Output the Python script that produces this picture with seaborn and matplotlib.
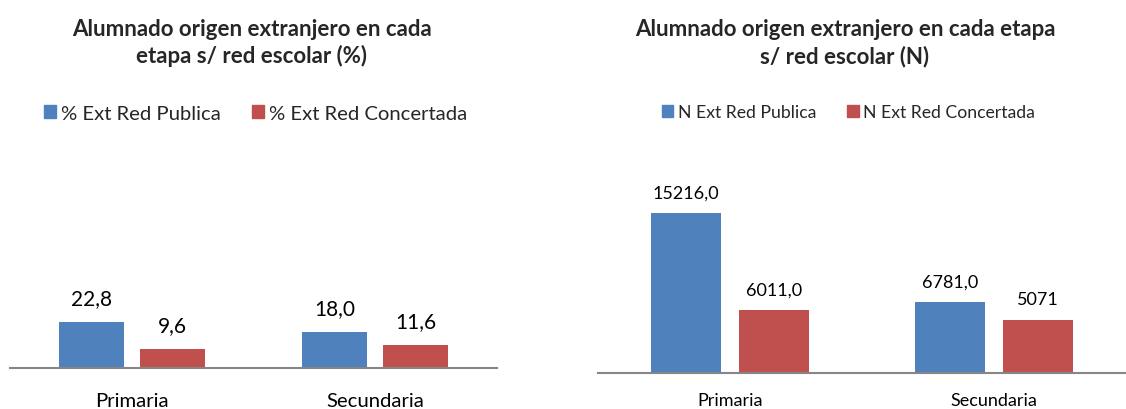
import matplotlib
matplotlib.use('Agg')
import matplotlib.pyplot as plt
import matplotlib.patches as mpatches
import seaborn as sns
import pandas as pd

# data
etapas = ['Primaria', 'Secundaria']
redes_pct = ['% Ext Red Publica', '% Ext Red Concertada']
pct_publica = [22.8, 18.0]
pct_concertada = [9.6, 11.6]
pct_labels = [['22,8', '18,0'], ['9,6', '11,6']]

redes_n = ['N Ext Red Publica', 'N Ext Red Concertada']
n_publica = [15216, 6781]
n_concertada = [6011, 5071]
n_labels = [['15216,0', '6781,0'], ['6011,0', '5071']]

colors = ['#4F81BD', '#C0504D']

sns.set_theme(style='white')
plt.rcParams['font.family'] = ['Lato', 'DejaVu Sans']

W, H = 1126, 410
fig = plt.figure(figsize=(W / 100, H / 100), dpi=100)


def px_axes(x0, x1, top, bottom):
    return fig.add_axes([x0 / W, 1 - bottom / H, (x1 - x0) / W, (bottom - top) / H])


def draw_panel(ax, publica, concertada, redes, labels, ymax, label_size, tick_size, pad, tick_pad):
    df = pd.DataFrame({
        'etapa': etapas * 2,
        'red': [redes[0]] * 2 + [redes[1]] * 2,
        'valor': publica + concertada,
    })
    sns.barplot(data=df, x='etapa', y='valor', hue='red', palette=colors,
                width=0.666, gap=0.2, saturation=1, legend=False, ax=ax,
                edgecolor='none')
    ax.set_ylim(0, ymax)
    ax.set_xlim(-0.5, 1.5)
    for cont, labs in zip(ax.containers, labels):
        ax.bar_label(cont, labels=labs, padding=pad, fontsize=label_size, color='#000000')
    for s in ['top', 'left', 'right']:
        ax.spines[s].set_visible(False)
    ax.spines['bottom'].set_color('#868686')
    ax.spines['bottom'].set_linewidth(1.5)
    ax.set_yticks([])
    ax.set_xlabel('')
    ax.set_ylabel('')
    ax.tick_params(axis='x', length=0, pad=tick_pad, labelsize=tick_size, colors='#000000')
    ax.patch.set_alpha(0)


# left panel (%)
ax1 = px_axes(10, 497, 169, 369)
draw_panel(ax1, pct_publica, pct_concertada, redes_pct, pct_labels, 100, 15, 14.6, 10, 17)

# right panel (N)
ax2 = px_axes(598, 1126, 164, 374)
draw_panel(ax2, n_publica, n_concertada, redes_n, n_labels, 20000, 13, 13, 9, 13.5)

# titles
fig.text(252 / W, 1 - 43 / H, 'Alumnado origen extranjero en cada\netapa s/ red escolar (%)',
         ha='center', va='center', fontsize=16, fontweight='bold', linespacing=1.3)
fig.text(845 / W, 1 - 43 / H, 'Alumnado origen extranjero en cada etapa\ns/ red escolar (N)',
         ha='center', va='center', fontsize=16, fontweight='bold', linespacing=1.3)

# legends
h1 = [mpatches.Patch(color=c, label=l) for c, l in zip(colors, redes_pct)]
fig.legend(handles=h1, loc='center left', bbox_to_anchor=(44 / W, 1 - 114 / H), ncol=2,
           frameon=False, fontsize=14.6, handlelength=0.6, handleheight=0.6,
           handletextpad=0.25, columnspacing=1.5, borderaxespad=0, borderpad=0)
h2 = [mpatches.Patch(color=c, label=l) for c, l in zip(colors, redes_n)]
fig.legend(handles=h2, loc='center left', bbox_to_anchor=(662 / W, 1 - 113 / H), ncol=2,
           frameon=False, fontsize=12.7, handlelength=0.65, handleheight=0.65,
           handletextpad=0.25, columnspacing=1.75, borderaxespad=0, borderpad=0)

fig.savefig('out.png', dpi=100)
